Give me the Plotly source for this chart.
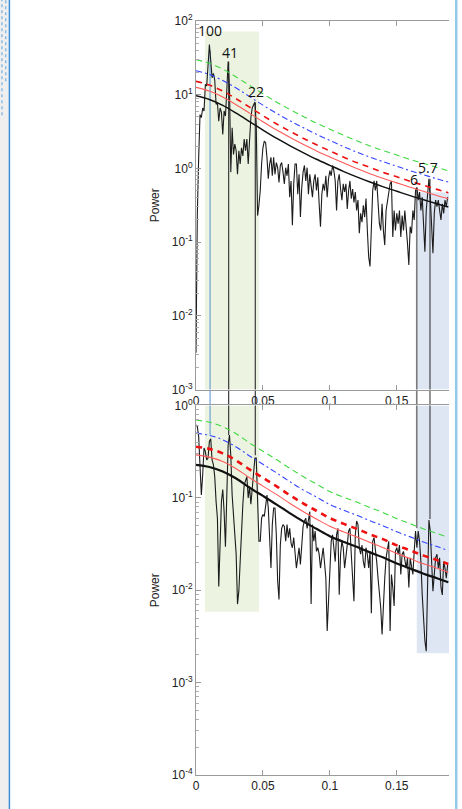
import math
import plotly.graph_objects as go

# ---------------------------------------------------------------------------
# Periodogram (power vs. frequency, cycles per kyr) for the two records.
# Values are log10(power), one per 0.001 frequency step starting at 0.
# ---------------------------------------------------------------------------
log_power_top = [
    -2.5, -0.6, 0.15, 0.73, 0.69, 0.82, 0.78, 1.14, 1.12, 1.45,
    1.68, 1.47, 1.23, 1.29, 1.20, 0.87, 0.89, 0.64, 0.82, 0.76,
    0.46, 0.78, 0.71, 1.05, 1.45, 1.10, -0.05, 0.55, 0.19, 0.33,
    0.24, -0.08, 0.24, 0.06, 0.28, 0.17, 0.40, 0.24, 0.40, 0.06,
    0.46, 0.69, 0.82, 0.87, 0.90, 0.60, -0.64, -0.50, -0.30, 0.06,
    0.28, 0.37, 0.35, 0.15, -0.14, 0.06, 0.15, -0.10, 0.15, -0.08,
    0.08, 0.01, -0.19, 0.04, 0.08, -0.05, -0.21, 0.01, -0.10, 0.06,
    -0.39, -0.17, -0.77, -0.21, 0.06, 0.06, -0.35, -0.08, -0.66, -0.26,
    -0.05, 0.04, -0.17, 0.01, -0.35, -0.08, -0.26, -0.39, -0.17, -0.08,
    -0.30, -0.12, -0.48, -0.79, -0.35, -0.21, -0.30, -0.10, -0.39, -0.14,
    -0.03, -0.10, 0.04, -0.03, -0.17, -0.57, -0.17, -0.08, -0.28, -0.43,
    -0.21, -0.32, -0.21, -0.55, -0.30, -0.17, -0.41, -0.28, -0.46, -0.32,
    -0.57, -0.43, -0.88, -0.61, -0.73, -0.50, -0.66, -0.41, -0.84, -1.20,
    -1.33, -0.70, -0.30, -0.17, -0.30, -0.17, -0.48, -0.75, -0.84, -0.48,
    -0.84, -1.04, -0.57, -0.43, -0.32, -0.21, -0.17, -0.93, -0.57, -0.84,
    -0.61, -0.75, -0.57, -0.93, -0.64, -0.84, -0.57, -0.75, -1.02, -1.31,
    -0.79, -0.88, -0.57, -0.70, -0.30, -0.26, -0.43, -0.32, -0.57, -0.39,
    -0.75, -1.13, -0.57, -0.35, -0.14, -0.39, -0.75, -1.15, -0.61, -0.43,
    -0.52, -0.43, -0.57, -0.70, -0.48, -0.61, -0.43, -0.52, -0.39,
]

log_power_bottom = [
    -0.21, -0.23, -0.34, -0.68, -0.97, -0.75, -0.46, -0.50, -0.59, -0.57,
    -0.39, -0.36, -0.59, -0.64, -0.77, -1.04, -1.22, -1.96, -1.54, -1.04,
    -0.91, -1.15, -1.53, -1.07, -0.43, -0.32, -0.54, -0.97, -1.22, -1.36,
    -1.61, -2.15, -2.01, -1.69, -1.29, -1.07, -0.86, -0.81, -0.77, -1.00,
    -0.88, -1.07, -0.89, -0.79, -0.57, -0.57, -1.00, -1.47, -1.47, -1.22,
    -1.18, -1.20, -1.09, -0.97, -1.11, -1.43, -1.76, -1.29, -1.11, -1.11,
    -1.40, -1.90, -2.10, -1.51, -1.33, -1.29, -1.31, -1.47, -1.29, -1.43,
    -1.33, -1.49, -1.54, -1.43, -1.58, -1.76, -1.65, -1.54, -1.72, -1.47,
    -1.31, -1.25, -1.22, -1.33, -1.25, -1.15, -2.15, -1.29, -1.47, -1.36,
    -1.58, -1.54, -1.61, -1.76, -1.65, -1.54, -1.70, -1.87, -2.44, -2.05,
    -1.65, -1.47, -1.40, -1.54, -1.69, -1.40, -1.33, -2.05, -1.61, -1.47,
    -1.54, -1.76, -1.65, -1.51, -1.36, -1.33, -1.61, -1.87, -2.12, -1.40,
    -1.25, -1.29, -1.54, -1.61, -1.51, -1.69, -1.76, -1.54, -1.61, -1.76,
    -1.58, -2.25, -1.47, -1.43, -1.54, -1.69, -1.87, -2.01, -2.19, -2.48,
    -2.12, -1.87, -1.65, -1.54, -1.47, -2.44, -1.83, -1.97, -2.17, -1.58,
    -1.54, -1.61, -1.51, -1.83, -1.61, -1.58, -1.69, -1.76, -1.65, -1.97,
    -1.65, -1.72, -1.83, -1.58, -1.36, -1.54, -1.36, -1.47, -1.69, -2.05,
    -2.33, -2.55, -2.66, -1.69, -1.24, -1.36, -1.72, -2.01, -1.83, -1.65,
    -1.61, -1.76, -1.65, -1.97, -2.05, -1.69, -1.76, -1.87, -1.72,
]

freq_step = 0.001
freq_top = [i * freq_step for i in range(len(log_power_top))]
freq_bottom = [i * freq_step for i in range(len(log_power_bottom))]
power_top = [10 ** v for v in log_power_top]
power_bottom = [10 ** v for v in log_power_bottom]

# ---------------------------------------------------------------------------
# Red-noise background and confidence levels
# ---------------------------------------------------------------------------
curve_freq = [0, 0.01, 0.02, 0.03, 0.04, 0.05, 0.06, 0.07, 0.08, 0.09,
              0.10, 0.11, 0.12, 0.13, 0.14, 0.15, 0.16, 0.17, 0.18, 0.1885]

top_background = [9.66, 8.61, 7.16, 5.62, 4.32, 3.31, 2.57, 2.04, 1.64, 1.33,
                  1.10, 0.912, 0.767, 0.653, 0.562, 0.490, 0.427, 0.376, 0.331, 0.299]
top_conf_90 = [12.6, 11.2, 9.31, 7.31, 5.62, 4.30, 3.34, 2.65, 2.13, 1.73,
               1.43, 1.19, 0.997, 0.849, 0.731, 0.637, 0.555, 0.489, 0.430, 0.389]
top_conf_95 = [15.2, 13.5, 11.2, 8.82, 6.78, 5.20, 4.03, 3.20, 2.57, 2.09,
               1.73, 1.43, 1.20, 1.03, 0.882, 0.769, 0.670, 0.590, 0.520, 0.469]
top_conf_99 = [21.1, 18.8, 15.6, 12.3, 9.42, 7.22, 5.60, 4.45, 3.58, 2.90,
               2.40, 1.99, 1.67, 1.42, 1.23, 1.07, 0.931, 0.820, 0.722, 0.652]
top_conf_999 = [29.9, 26.7, 22.2, 17.4, 13.4, 10.3, 7.97, 6.32, 5.08, 4.12,
                3.41, 2.83, 2.38, 2.02, 1.74, 1.52, 1.32, 1.17, 1.03, 0.927]

bottom_background = [0.228, 0.216, 0.193, 0.162, 0.129, 0.105, 0.0851, 0.0684, 0.0556, 0.0462,
                     0.0385, 0.0335, 0.0295, 0.0257, 0.0226, 0.0195, 0.0172, 0.0151, 0.0135, 0.0122]
bottom_conf_90 = [0.292, 0.276, 0.247, 0.207, 0.165, 0.134, 0.109, 0.0876, 0.0712, 0.0591,
                  0.0493, 0.0429, 0.0378, 0.0329, 0.0289, 0.0250, 0.0220, 0.0193, 0.0173, 0.0156]
bottom_conf_95 = [0.358, 0.339, 0.303, 0.254, 0.203, 0.165, 0.134, 0.107, 0.0873, 0.0725,
                  0.0604, 0.0526, 0.0463, 0.0403, 0.0355, 0.0306, 0.0270, 0.0237, 0.0212, 0.0192]
bottom_conf_99 = [0.502, 0.475, 0.425, 0.356, 0.284, 0.231, 0.187, 0.150, 0.122, 0.102,
                  0.0847, 0.0737, 0.0649, 0.0565, 0.0497, 0.0429, 0.0378, 0.0332, 0.0297, 0.0268]
bottom_conf_999 = [0.695, 0.659, 0.589, 0.494, 0.393, 0.320, 0.260, 0.209, 0.170, 0.141,
                   0.117, 0.102, 0.0900, 0.0784, 0.0689, 0.0595, 0.0525, 0.0461, 0.0412, 0.0372]

# ---------------------------------------------------------------------------
# Orbital periods (kyr) marked on the spectra
# ---------------------------------------------------------------------------
period_labels = ["100", "41", "22", "6", "5.7"]
period_freq = [0.0105, 0.0244, 0.0443, 0.1649, 0.1748]
peak_top = [40, 28, 7.8, 0.55, 0.72]            # peak power, upper spectrum
peak_bottom = [0.48, 0.48, 0.29, 0.047, 0.059]  # peak power, lower spectrum
marker_colors = ["#6f9fd8", "#3a3a3a", "#3a3a3a", "#7a7a7a", "#2a2a2a"]
marker_widths = [1.2, 1.2, 1.2, 1.6, 1.0]
label_freq = [0.0105, 0.0256, 0.0450, 0.1627, 0.1733]
label_power = [74, 37, 11.2, 0.70, 1.04]

# Shaded frequency bands
band_low = [0.0067, 0.0471]
band_high = [0.1649, 0.189]
band_low_top = [1e-3, 72]
band_low_bottom = [0.00585, 1.0]
band_high_top = [1e-3, 0.476]
band_high_bottom = [0.00208, 1.0]

# Decade ticks
top_tickvals = [1e-3, 1e-2, 1e-1, 1e0, 1e1, 1e2]
top_ticktext = ["10<sup>-3</sup>", "10<sup>-2</sup>", "10<sup>-1</sup>",
                "10<sup>0</sup>", "10<sup>1</sup>", "10<sup>2</sup>"]
bottom_tickvals = [1e-4, 1e-3, 1e-2, 1e-1, 1e0]
bottom_ticktext = ["10<sup>-4</sup>", "10<sup>-3</sup>", "10<sup>-2</sup>",
                   "10<sup>-1</sup>", "10<sup>0</sup>"]
freq_tickvals = [0, 0.05, 0.1, 0.15]
freq_ticktext = ["0", "0.05", "0.1", "0.15"]

X_MAX = 0.189
TOP_DOMAIN = [0.5112, 1.0]
BOTTOM_DOMAIN = [0.0, 0.4901]

fig = go.Figure()

# vertical period markers (drawn under the spectra)
for f, ptop, pbot, col, w in zip(period_freq, peak_top, peak_bottom, marker_colors, marker_widths):
    fig.add_trace(go.Scatter(x=[f, f], y=[ptop, 1e-3], mode="lines",
                             line=dict(color=col, width=w), xaxis="x", yaxis="y",
                             hoverinfo="skip", showlegend=False))
    fig.add_trace(go.Scatter(x=[f, f], y=[1.0, pbot], mode="lines",
                             line=dict(color=col, width=w), xaxis="x2", yaxis="y2",
                             hoverinfo="skip", showlegend=False))

spec_line = dict(color="#1c1c1c", width=1.1)
fig.add_trace(go.Scatter(x=freq_top, y=power_top, mode="lines", line=spec_line,
                         xaxis="x", yaxis="y", showlegend=False))
fig.add_trace(go.Scatter(x=freq_bottom, y=power_bottom, mode="lines", line=spec_line,
                         xaxis="x2", yaxis="y2", showlegend=False))


def add_levels(xa, ya, bg, c90, c95, c99, c999, bg_w, dash_w):
    styles = [
        (c999, dict(color="#3fd83f", width=1.1, dash="6px,4px")),
        (c99, dict(color="#3344ff", width=1.1, dash="6px,3px,2px,3px")),
        (c95, dict(color="#ee1111", width=dash_w, dash="6px,5px")),
        (c90, dict(color="#ff5a5a", width=1.1)),
        (bg, dict(color="#111111", width=bg_w)),
    ]
    for vals, ln in styles:
        ln["shape"] = "spline"
        fig.add_trace(go.Scatter(x=curve_freq, y=vals, mode="lines", line=ln,
                                 xaxis=xa, yaxis=ya, hoverinfo="skip", showlegend=False))


add_levels("x", "y", top_background, top_conf_90, top_conf_95, top_conf_99, top_conf_999, 1.5, 1.6)
add_levels("x2", "y2", bottom_background, bottom_conf_90, bottom_conf_95, bottom_conf_99,
           bottom_conf_999, 2.2, 2.6)

shapes = []
# frequency bands
for xref, yref, band, yr, col in [
    ("x", "y", band_low, band_low_top, "#ecf4e1"),
    ("x2", "y2", band_low, band_low_bottom, "#ecf4e1"),
    ("x", "y", band_high, band_high_top, "#dfe6f3"),
    ("x2", "y2", band_high, band_high_bottom, "#dfe6f3"),
]:
    shapes.append(dict(type="rect", xref=xref, yref=yref, x0=band[0], x1=band[1],
                       y0=yr[0], y1=yr[1],
                       fillcolor=col, line=dict(width=0), layer="below"))

# marker lines continue across the gap between the two panels
for f, col, w in zip(period_freq, marker_colors, marker_widths):
    shapes.append(dict(type="line", xref="x", yref="paper", x0=f, x1=f,
                       y0=BOTTOM_DOMAIN[1], y1=TOP_DOMAIN[0],
                       line=dict(color=col, width=w), layer="below"))

# window chrome at the page edges
shapes += [
    dict(type="rect", xref="paper", yref="paper", x0=-0.78, x1=-0.7395, y0=-0.1, y1=1.1,
         fillcolor="#efefef", line=dict(width=0), layer="below"),
    dict(type="line", xref="paper", yref="paper", x0=-0.7375, x1=-0.7375, y0=-0.1, y1=1.1,
         line=dict(color="#3d8fd6", width=1.5)),
    dict(type="line", xref="paper", yref="paper", x0=-0.767, x1=-0.767, y0=0.875, y1=1.03,
         line=dict(color="#8cbce6", width=1.5, dash="dot")),
    dict(type="line", xref="paper", yref="paper", x0=-0.752, x1=-0.752, y0=0.92, y1=1.03,
         line=dict(color="#8cbce6", width=1.5, dash="dot")),
    dict(type="line", xref="paper", yref="paper", x0=1.0285, x1=1.0285, y0=-0.1, y1=1.1,
         line=dict(color="#92c9ea", width=2.5)),
]

annotations = []
for txt, f, p in zip(period_labels, label_freq, label_power):
    annotations.append(dict(text=txt, x=f, y=math.log10(p), xref="x", yref="y",
                            showarrow=False, font=dict(family="Open Sans", size=14, color="#111"),
                            xanchor="center", yanchor="middle"))
for dom in (TOP_DOMAIN, BOTTOM_DOMAIN):
    annotations.append(dict(text="Power", x=-0.162, y=(dom[0] + dom[1]) / 2,
                            xref="paper", yref="paper", showarrow=False, textangle=-90,
                            font=dict(family="Liberation Sans", size=12, color="#222"),
                            xanchor="center", yanchor="middle"))

axis_common = dict(showgrid=False, zeroline=False, showline=True, linecolor="#9a9a9a",
                   linewidth=1, ticks="inside", tickcolor="#9a9a9a", ticklen=5,
                   tickfont=dict(family="Liberation Sans", size=12, color="#222"))

xaxis_common = dict(axis_common, range=[0, X_MAX], tickvals=freq_tickvals,
                    ticktext=freq_ticktext, mirror="ticks")
yaxis_common = dict(axis_common, type="log",
                    minor=dict(ticks="inside", ticklen=3, tickcolor="#b0b0b0", dtick="D1"))

fig.update_layout(
    width=462, height=809,
    margin=dict(l=196, r=13, t=16, b=34),
    paper_bgcolor="white", plot_bgcolor="white",
    showlegend=False,
    xaxis=dict(xaxis_common, domain=[0, 1], anchor="y"),
    yaxis=dict(yaxis_common, domain=TOP_DOMAIN, range=[-3, 2], anchor="x",
               tickvals=top_tickvals, ticktext=top_ticktext),
    xaxis2=dict(xaxis_common, domain=[0, 1], anchor="y2"),
    yaxis2=dict(yaxis_common, domain=BOTTOM_DOMAIN, range=[-4, 0], anchor="x2",
                tickvals=bottom_tickvals, ticktext=bottom_ticktext),
    shapes=shapes,
    annotations=annotations,
)

fig.write_html("out.html")
